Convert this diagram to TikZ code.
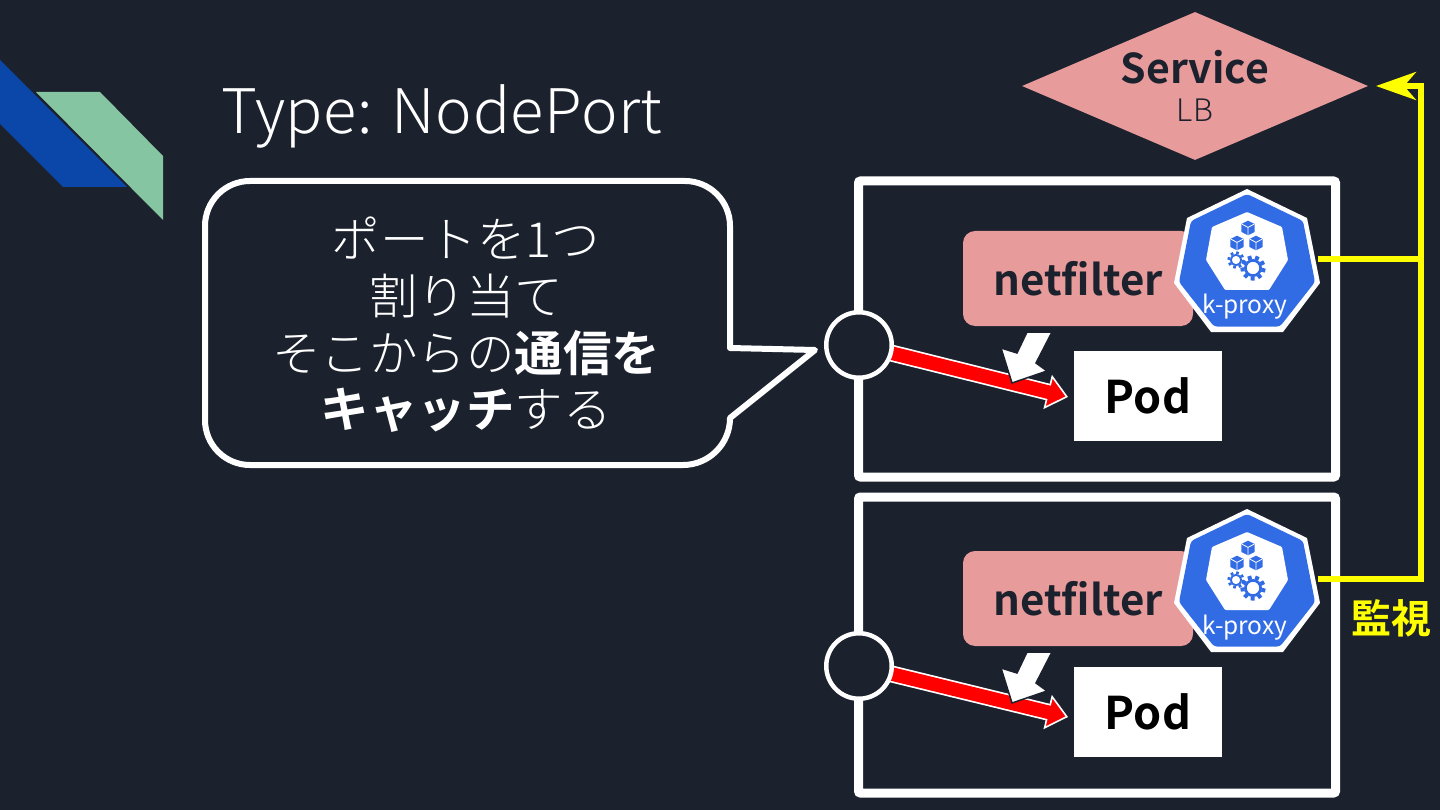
\documentclass[tikz,border=0pt]{standalone}
\usepackage{fontspec}
\usetikzlibrary{arrows.meta,shapes.geometric}
\setmainfont{Noto Sans CJK JP}
\newfontfamily\lightf{Noto Sans CJK JP Light}
\newfontfamily\lightsp[LetterSpace=1.0]{Noto Sans CJK JP Light}
\newfontfamily\boldjp{Noto Sans CJK JP Bold}
\definecolor{bg}{HTML}{1B212D}
\definecolor{pinkc}{HTML}{E89B9B}
\definecolor{kblue}{HTML}{326CE5}
\definecolor{yel}{HTML}{FFFF00}
\newcommand{\fs}[1]{\fontsize{#1}{#1}\selectfont}
\newcommand{\kubegear}[4]{%
  \foreach \a in {0,1,...,#4}{\draw[kblue,line width=#3*0.42pt] (#1,#2) ++({\a*360/(#4+1)+12}:#3*0.9) -- ++({\a*360/(#4+1)+12}:#3*0.42);}
  \draw[kblue,fill=white,line width=#3*0.28pt] (#1,#2) circle[radius=#3*0.8];}
\newcommand{\kubecube}[2]{%
  \fill[kblue] (#1,#2-7.3) -- (#1+6.7,#2-3.9) -- (#1+6.7,#2+3.9) -- (#1,#2+7.3) -- (#1-6.7,#2+3.9) -- (#1-6.7,#2-3.9) -- cycle;
  \draw[white,line width=.8pt] (#1-6.2,#2-3.9) -- (#1,#2-.6) -- (#1+6.2,#2-3.9) (#1,#2-.6) -- (#1,#2+6.8);}
\tikzset{
  x=1pt,y=-1pt,
  hostbox/.style={draw=white,line width=9pt,rounded corners=2pt,minimum width=477pt,minimum height=296pt,inner sep=0pt},
  nf/.style={fill=pinkc,rounded corners=12pt,minimum width=230pt,minimum height=95pt,inner sep=0pt,text=bg,font=\boldjp\fs{42}},
  podbox/.style={fill=white,minimum width=148pt,minimum height=90pt,inner sep=0pt,text=black,font=\boldjp\fs{45}},
  port/.style={circle,draw=white,line width=4.5pt,fill=bg,minimum size=65.5pt,inner sep=0pt},
  kp/.style={text=white,font=\fs{24.5},inner sep=0pt},
  watch/.style={draw=yel,line width=5.5pt,line join=miter},
  txt/.style={text=white,inner sep=0pt},
  bubtxt/.style={text=white,inner sep=0pt,font=\lightf\fs{48.5}},
  redarrowout/.style={white,line width=17pt,-{Triangle[length=21pt,width=35pt,line width=1.6pt,fill=red]}},
  redarrowin/.style={red,line width=13.6pt,shorten >=18pt},
  hand/.style={fill=white,draw=bg,line width=1.5pt,line join=miter},
}
\newcommand{\kproxy}[2]{%
 \begin{scope}[shift={(#1,#2)}]
  \fill[white] (0,-73) -- (60,-44) -- (73,21) -- (36,70) -- (-36,70) -- (-73,21) -- (-60,-44) -- cycle;
  \fill[kblue,rounded corners=3pt] (0,-68) -- (56,-41) -- (68,20) -- (33,64.5) -- (-33,64.5) -- (-68,20) -- (-56,-41) -- cycle;
  \fill[white,rounded corners=1pt] (0,-50) -- (35,-35) -- (41,-2) -- (22,28) -- (-22,28) -- (-41,-2) -- (-35,-35) -- cycle;
  \kubecube{1}{-34}
  \kubecube{-10}{-19}
  \kubecube{9}{-19}
  \kubegear{-11}{-2}{6.5}{7}
  \kubegear{6}{6}{9.5}{8}
 \end{scope}}
\begin{document}
\begin{tikzpicture}
\useasboundingbox (0,0) rectangle (1440,810);
\fill[bg] (0,0) rectangle (1440,810);
% corner decoration
\fill[fill={rgb,255:red,11;green,71;blue,168}] (0,60) -- (127,187) -- (63,187) -- (0,124) -- cycle;
\fill[fill={rgb,255:red,133;green,197;blue,162}] (36,92) -- (100,92) -- (163,156) -- (163,220) -- cycle;
\node[txt,font=\lightsp\fs{61.5},anchor=base west] (title) at (221,133.5) {Type: NodePort};
% bubble
\draw[draw=white,line width=6pt,fill=bg,line join=round]
  (250,181) -- (685,181) arc[start angle=-90,end angle=0,radius=45] -- (730,348) -- (815,350) -- (730,418)
  arc[start angle=0,end angle=90,radius=47] -- (250,465) arc[start angle=90,end angle=180,radius=45] -- (205,226)
  arc[start angle=180,end angle=270,radius=45] -- cycle;
\node[bubtxt] (b1) at (466,238) {ポートを1つ};
\node[bubtxt] (b2) at (466,296) {割り当て};
\node[bubtxt] (b3) at (466,353) {そこからの{\boldjp 通信を}};
\node[bubtxt] (b4) at (466,410) {{\boldjp キャッチ}する};
% service
\node[diamond,fill=pinkc,minimum width=346pt,minimum height=148pt,aspect=2.34,inner sep=0pt] (svc) at (1195,86) {};
\node[txt,text=bg,font=\boldjp\fs{41}] (svct) at (1195,67) {Service};
\node[txt,text=bg,font=\lightsp\fs{31}] (svcl) at (1195,110) {LB};
% hosts
\node[hostbox] (h1) at (1097,329) {};
\node[hostbox] (h2) at (1097,645) {};
\node[nf] (nf1) at (1078,278.5) {netfilter};
\node[nf] (nf2) at (1078,598.5) {netfilter};
\node[podbox] (pod1) at (1148,396) {Pod};
\node[podbox] (pod2) at (1148,712) {Pod};
% kube
\kproxy{1247}{262}
\kproxy{1247}{582}
\node[kp] (kp1) at (1245,307) {k-proxy};
\node[kp] (kp2) at (1245,628) {k-proxy};
\coordinate (kpe1) at (1318,259);
\coordinate (kpe2) at (1318,579);
\coordinate (j1) at (1421,259);
\coordinate (j2) at (1421,579);
\coordinate (j3) at (1421,86);
\coordinate (svcin) at (1376,86);
\draw[watch] (kpe1) -- (j1);
\draw[watch,-{Stealth[length=40pt,width=28pt,inset=12pt]}] (kpe2) -- (j2) -- (j3) -- (svcin);
\node[txt,text=yel,font=\boldjp\fs{40}] (watchl) at (1391,618) {監視};
% ports and red arrows
\coordinate (c1) at (859,345);
\coordinate (c2) at (859,666);
\coordinate (t1) at (1068,397);
\coordinate (t2) at (1068,717);
\draw[redarrowout] (c1) -- (t1);
\draw[redarrowin] (c1) -- (t1);
\draw[redarrowout] (c2) -- (t2);
\draw[redarrowin] (c2) -- (t2);
\node[port] (p1) at (c1) {};
\node[port] (p2) at (c2) {};
\draw[hand] (1027,332) -- (1052,332) -- (1036,363) -- (1047,371) -- (1012,383) -- (1001,348) -- (1017,353) -- cycle;
\draw[hand] (1027,652) -- (1052,652) -- (1036,683) -- (1047,691) -- (1012,703) -- (1001,668) -- (1017,673) -- cycle;
\end{tikzpicture}
\end{document}
